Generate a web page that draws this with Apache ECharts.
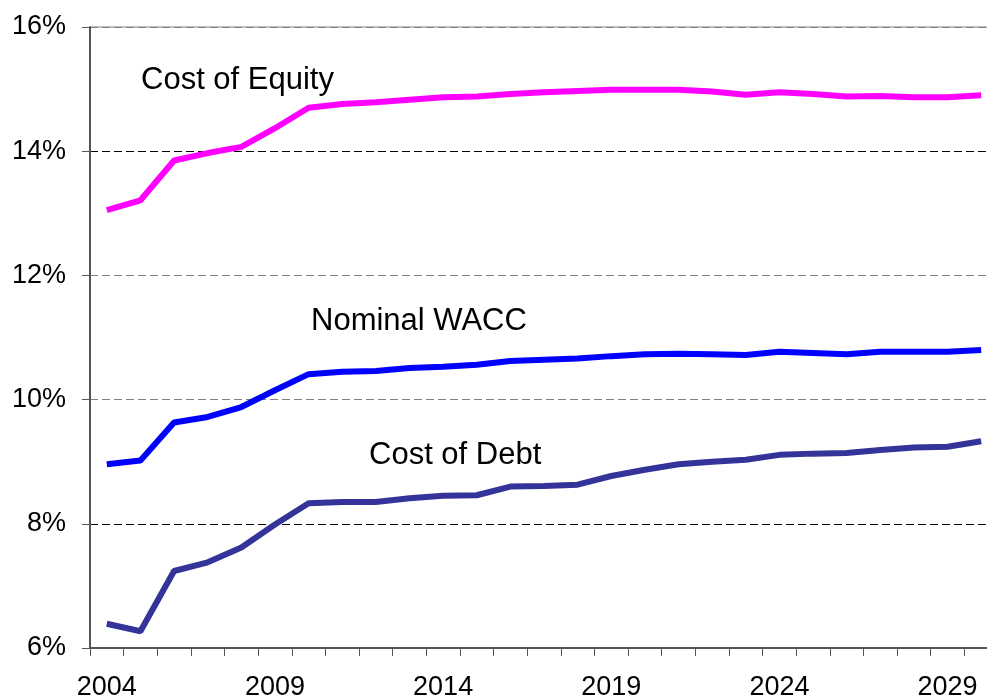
<!DOCTYPE html>
<html>
<head>
<meta charset="utf-8">
<script src="https://cdn.jsdelivr.net/npm/echarts@6/dist/echarts.min.js"></script>
<style>
html,body{margin:0;padding:0;background:#fff;overflow:hidden;width:987px;height:698px;}
#chart{width:998px;height:698px;}
</style>
</head>
<body>
<div id="chart"></div>
<script>
const years = ['2004','2005','2006','2007','2008','2009','2010','2011','2012','2013','2014','2015','2016','2017','2018','2019','2020','2021','2022','2023','2024','2025','2026','2027','2028','2029','2030'];
const costOfEquity = [13.05,13.21,13.85,13.97,14.07,14.37,14.70,14.76,14.79,14.83,14.87,14.88,14.92,14.95,14.97,14.99,14.99,14.99,14.96,14.91,14.95,14.92,14.88,14.89,14.87,14.87,14.90];
const nominalWACC = [8.96,9.02,9.63,9.72,9.88,10.15,10.41,10.45,10.46,10.51,10.53,10.56,10.62,10.64,10.66,10.70,10.73,10.74,10.73,10.72,10.77,10.75,10.73,10.77,10.77,10.77,10.80];
const costOfDebt = [6.39,6.27,7.24,7.38,7.62,7.99,8.33,8.35,8.35,8.41,8.45,8.46,8.60,8.61,8.63,8.77,8.87,8.96,9.00,9.03,9.11,9.13,9.14,9.19,9.23,9.24,9.33];
const yTicks = {min: 6, max: 16, step: 2};
const seriesNames = ['Cost of Equity','Nominal WACC','Cost of Debt'];

const FONT = '"Liberation Sans", Arial, sans-serif';
const chart = echarts.init(document.getElementById('chart'), null, {renderer: 'canvas'});
chart.setOption({
  backgroundColor: '#ffffff',
  animation: false,
  textStyle: {fontFamily: FONT},
  grid: {left: 90, top: 27, right: 0, bottom: 50, containLabel: false, outerBoundsMode: 'none', show: true, borderColor: '#808080', borderWidth: 1, backgroundColor: 'transparent'},
  xAxis: {
    type: 'category',
    data: years,
    boundaryGap: true,
    axisLine: {lineStyle: {color: '#555', width: 2}},
    axisTick: {show: true, interval: 0, length: 8, inside: false, lineStyle: {color: '#555', width: 1}},
    axisLabel: {interval: 4, color: '#000', fontSize: 27, fontFamily: FONT, margin: 26},
    splitLine: {show: false}
  },
  yAxis: {
    type: 'value',
    min: yTicks.min, max: yTicks.max, interval: yTicks.step,
    axisLine: {show: true, lineStyle: {color: '#555', width: 2}},
    axisTick: {show: true, length: 8, lineStyle: {color: '#555', width: 1}},
    axisLabel: {formatter: '{value}%', color: '#000', fontSize: 27, fontFamily: FONT, margin: 24},
    splitLine: {show: true, lineStyle: {color: ['#000','#000','#808080','#808080','#000','#808080'], type: [8,4], width: 1}}
  },
  series: [
    {name: seriesNames[0], type: 'line', data: costOfEquity, showSymbol: false, lineStyle: {color: '#FF00FF', width: 6}, itemStyle: {color: '#FF00FF'}},
    {name: seriesNames[1], type: 'line', data: nominalWACC, showSymbol: false, lineStyle: {color: '#0000FF', width: 6}, itemStyle: {color: '#0000FF'}},
    {name: seriesNames[2], type: 'line', data: costOfDebt, showSymbol: false, lineStyle: {color: '#333399', width: 6}, itemStyle: {color: '#333399'}}
  ],
  graphic: [
    {type: 'text', left: 141, top: 65, style: {text: seriesNames[0], fill: '#000', font: '31px ' + FONT}},
    {type: 'text', left: 311, top: 306, style: {text: seriesNames[1], fill: '#000', font: '31px ' + FONT}},
    {type: 'text', left: 369, top: 440, style: {text: seriesNames[2], fill: '#000', font: '31px ' + FONT}}
  ]
});
</script>
</body>
</html>
